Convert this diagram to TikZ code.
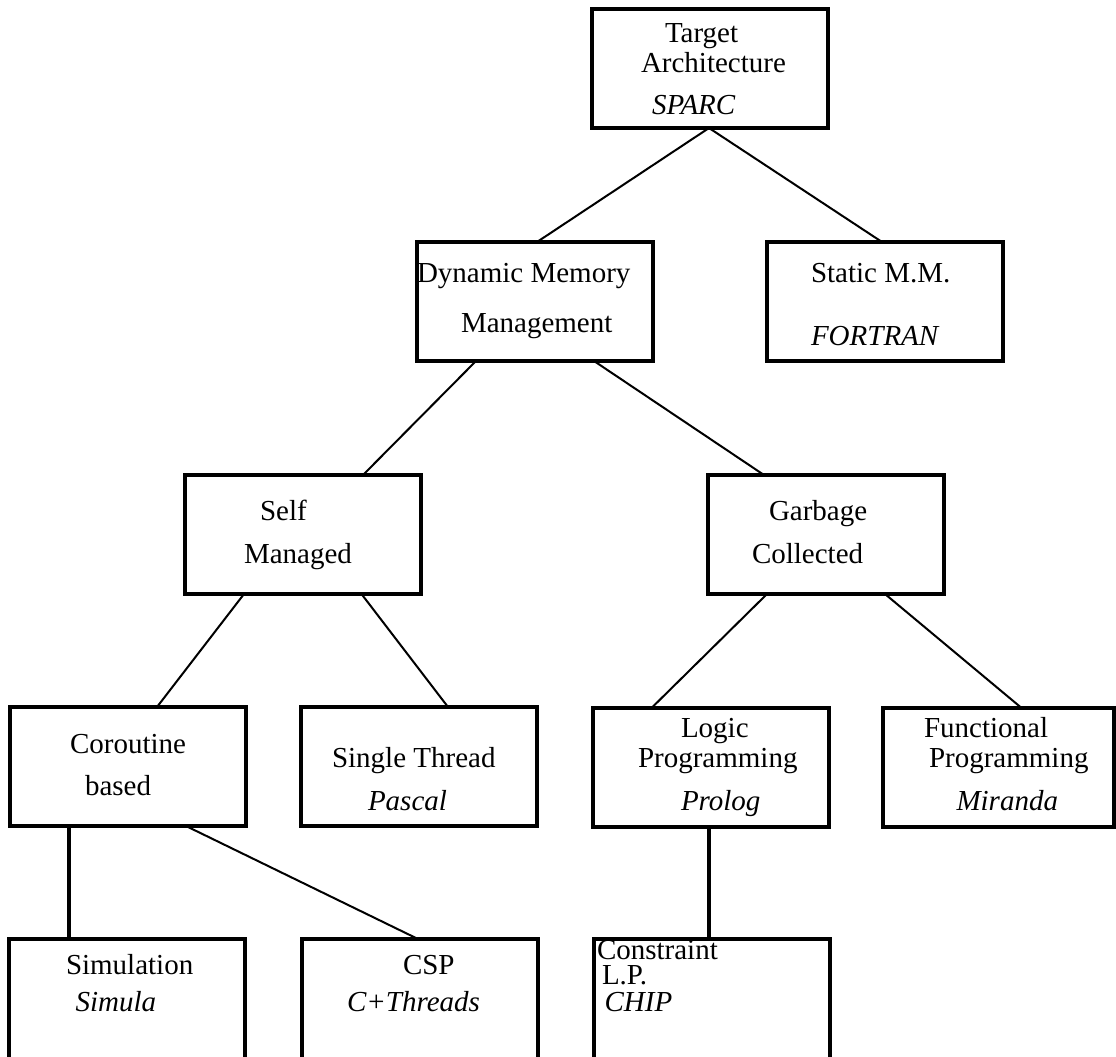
\documentclass[tikz,border=0pt]{standalone}
\usepackage{fontspec}
\setmainfont{Liberation Serif}
\begin{document}
\begin{tikzpicture}[x=1pt,y=-1pt,
  box/.style={draw, line width=4pt, rectangle, minimum width=236pt,
              minimum height=119pt, inner sep=0pt, outer sep=0pt},
  link/.style={line width=2pt},
  stem/.style={line width=4pt},
  txt/.style={anchor=base west, inner sep=0pt, outer sep=0pt,
              font=\fontsize{29}{34}\selectfont},
  lang/.style={txt, font=\fontsize{29}{34}\selectfont\itshape}
]
\useasboundingbox (0,0) rectangle (1116,1057);
\fill[white] (0,0) rectangle (1116,1057);
\begin{scope}
\clip (0,0) rectangle (1116,1057);

% boxes of the classification tree
\node[box] (target) at (710,68.5) {};
\node[box] (dyn)    at (534.5,301.5) {};
\node[box] (static) at (884.5,301.5) {};
\node[box] (self)   at (302.5,534.5) {};
\node[box] (gc)     at (826,534.5) {};
\node[box] (corout) at (128,766.5) {};
\node[box] (single) at (419,766.5) {};
\node[box] (logic)  at (710.5,767) {};
\node[box, minimum width=231pt] (func) at (998.5,767) {};
\node[box, minimum height=121pt] (simul) at (127,999.5) {};
\node[box, minimum height=121pt] (csp)   at (419.5,999.5) {};
\node[box, minimum height=121pt] (clp)   at (712,999.5) {};

% connectors
\draw[link] ([xshift=-1pt]target.south) -- ([xshift=2.5pt]dyn.north);
\draw[link] ([xshift=-1pt]target.south) -- ([xshift=-2.5pt]static.north);
\draw[link] ([xshift=-58.5pt]dyn.south) -- ([xshift=60.5pt]self.north);
\draw[link] ([xshift=59.5pt]dyn.south) -- ([xshift=-62pt]gc.north);
\draw[link] ([xshift=-58.5pt]self.south) -- ([xshift=29pt]corout.north);
\draw[link] ([xshift=59pt]self.south) -- ([xshift=29pt]single.north);
\draw[link] ([xshift=-59pt]gc.south) -- ([xshift=-58.5pt]logic.north);
\draw[link] ([xshift=59pt]gc.south) -- ([xshift=22.5pt]func.north);
\draw[stem] ([xshift=-59pt]corout.south) -- ([xshift=-58pt]simul.north);
\draw[link] ([xshift=58pt]corout.south) -- ([xshift=-1.5pt]csp.north);
\draw[stem] ([xshift=-1.5pt]logic.south) -- ([xshift=-3pt]clp.north);

% labels
\node[txt]  (l1)  at (665,43)  {Target};
\node[txt]  (l2)  at (641,73)  {Architecture};
\node[lang] (l3)  at (652,114) {SPARC};
\node[txt]  (l4)  at (417,282) {Dynamic Memory};
\node[txt]  (l5)  at (461,332) {Management};
\node[txt]  (l6)  at (811,282) {Static M.M.};
\node[lang] (l7)  at (811,345) {FORTRAN};
\node[txt]  (l8)  at (260,520) {Self};
\node[txt]  (l9)  at (244,563) {Managed};
\node[txt]  (l10) at (769,520) {Garbage};
\node[txt]  (l11) at (752,563) {Collected};
\node[txt]  (l12) at (70,753)  {Coroutine};
\node[txt]  (l13) at (85,795)  {based};
\node[txt]  (l14) at (332,767) {Single Thread};
\node[lang] (l15) at (368,810) {Pascal};
\node[txt]  (l16) at (681,737) {Logic};
\node[txt]  (l17) at (638,767) {Programming};
\node[lang] (l18) at (681,810) {Prolog};
\node[txt]  (l19) at (924,737) {Functional};
\node[txt]  (l20) at (929,767) {Programming};
\node[lang] (l21) at (956.5,810) {Miranda};
\node[txt]  (l22) at (66,974)  {Simulation};
\node[lang] (l23) at (75.5,1011) {Simula};
\node[txt]  (l24) at (403,974) {CSP};
\node[lang] (l25) at (347,1011) {C+Threads};
\node[txt]  (l26) at (597,959) {Constraint};
\node[txt]  (l27) at (602,984) {L.P.};
\node[lang] (l28) at (604.6,1011) {CHIP};
\end{scope}
\end{tikzpicture}
\end{document}
